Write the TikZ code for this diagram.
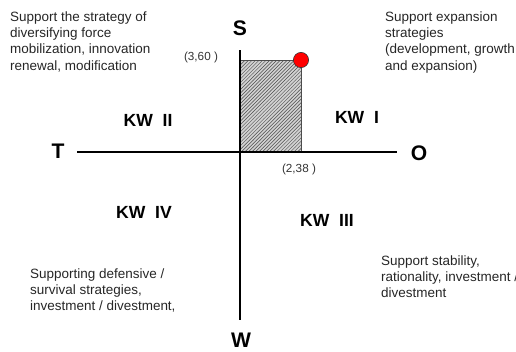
\documentclass[tikz,border=0pt]{standalone}
\usepackage{fontspec}
\setmainfont{Liberation Sans}
\usetikzlibrary{patterns}

\tikzset{
    desc/.style={anchor=north west, align=left, inner sep=0pt, font=\fontsize{11.5}{14}\selectfont, text=black!85},
    quad/.style={font=\fontsize{15}{18}\selectfont\bfseries},
    pole/.style={font=\fontsize{18}{20}\selectfont\bfseries},
    val/.style={font=\fontsize{10}{12}\selectfont, text=black!80},
    axis/.style={line width=1.2pt}
}

\begin{document}
\begin{tikzpicture}[x=0.03cm, y=-0.03cm]
            \useasboundingbox (0,0) rectangle (516,351);

            % Poles
            \node(S) [pole] at (240,28) {S};
            \node(W) [pole] at (241,340) {W};
            \node(T) [pole] at (58,151) {T};
            \node(O) [pole] at (419,153) {O};

            % Axis ends
            \coordinate(top) at (240,50);
            \coordinate(bottom) at (240,320);
            \coordinate(left) at (77,152);
            \coordinate(right) at (397,152);
            \coordinate(origin) at (240,152);
            \coordinate(point) at (301,60);

            % Shaded area
            \fill[gray!35] (origin) rectangle (point);
            \fill[pattern=north east lines, pattern color=black!70] (origin) rectangle (point);
            \draw[black!70, line width=0.4pt] (origin |- point) -- (point) -- (point |- origin);

            % Draw Lines
            \draw[axis] (top) -- (bottom);
            \draw[axis] (left) -- (right);

            \node(dot) [circle, fill=red, draw=black!80, line width=0.5pt, minimum size=13pt, inner sep=0pt] at (point) {};

            % Values
            \node(sval) [val] at (201,57) {(3,60 )};
            \node(oval) [val] at (299,169) {(2,38 )};

            % Quadrants
            \node(kw1) [quad] at (357,117) {KW\ \ I};
            \node(kw2) [quad] at (148,120) {KW\ \ II};
            \node(kw3) [quad] at (327,220) {KW\ \ III};
            \node(kw4) [quad] at (144,212) {KW\ \ IV};

            % Strategies
            \node(s1) [desc] at (385,11) {Support expansion\\strategies\\(development, growth\\and expansion)};
            \node(s2) [desc] at (10,11) {Support the strategy of\\diversifying force\\mobilization, innovation\\renewal, modification};
            \node(s3) [desc] at (381,255) {Support stability,\\rationality, investment /\\divestment};
            \node(s4) [desc] at (30,268) {Supporting defensive /\\survival strategies,\\investment / divestment,};

        \end{tikzpicture}
\end{document}
